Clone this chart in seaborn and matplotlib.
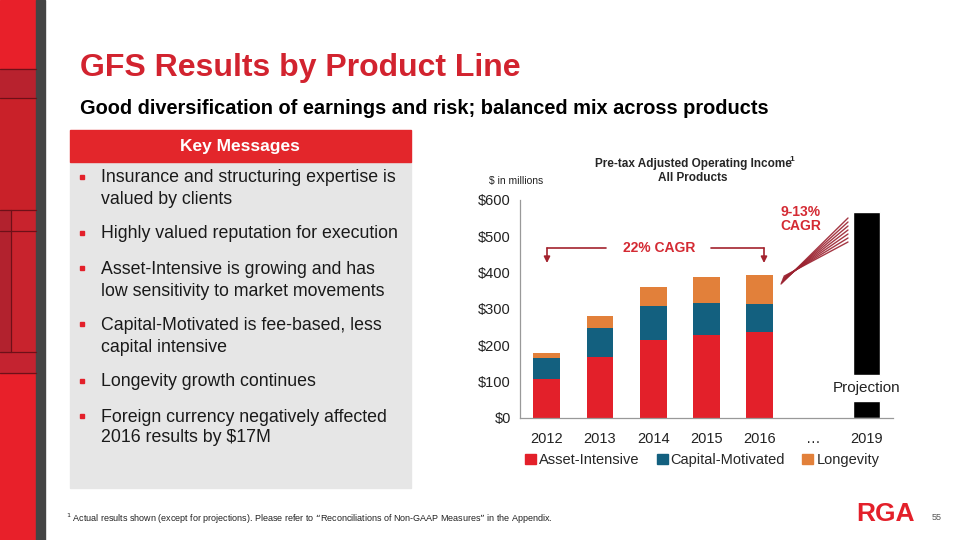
import pandas as pd
import matplotlib.pyplot as plt
import seaborn as sns
from matplotlib.lines import Line2D
from matplotlib.patches import Rectangle, Patch

# data ($ in millions)
years = ["2012", "2013", "2014", "2015", "2016", "…", "2019"]
actual_years = ["2012", "2013", "2014", "2015", "2016"]
asset_intensive = [107, 168, 214, 228, 237]
capital_motivated = [57, 79, 95, 88, 76]
longevity = [15, 34, 51, 71, 80]
proj_low = 46        # black part below the "Projection" label
proj_gap_top = 119   # black part resumes here
proj_top = 566

bullets = [
    ["Insurance and structuring expertise is", "valued by clients"],
    ["Highly valued reputation for execution"],
    ["Asset-Intensive is growing and has", "low sensitivity to market movements"],
    ["Capital-Motivated is fee-based, less", "capital intensive"],
    ["Longevity growth continues"],
    ["Foreign currency negatively affected", "2016 results by $17M"],
]

RED = "#E3202A"
BLUE = "#13607F"
ORANGE = "#E2803A"
TITLE_RED = "#D2232F"
ARROW_RED = "#A3232E"

sns.set_style("white")
plt.rcParams["font.family"] = ["Liberation Sans", "DejaVu Sans"]
NARROW = ["Liberation Sans Narrow", "Liberation Sans", "DejaVu Sans"]

W, H = 960, 540
fig = plt.figure(figsize=(9.6, 5.4), dpi=100)


def px(x, y):
    return x / W, 1 - y / H


# left decorative strip
fig.add_artist(Rectangle(px(0, 540), 36 / W, 1, color="#E8202A", zorder=0))
for y0, y1, c in [(69, 98, "#B8222E"), (98, 210, "#C92129"), (352, 373, "#C42330")]:
    fig.add_artist(Rectangle(px(0, y1), 36 / W, (y1 - y0) / H, color=c, zorder=0))
fig.add_artist(Rectangle(px(0, 352), 11 / W, 142 / H, color="#B2222E", zorder=0))
fig.add_artist(Rectangle(px(11, 352), 25 / W, 142 / H, color="#C8232D", zorder=0))
for y in [69, 98, 210, 231, 352, 373]:
    fig.add_artist(Line2D([0, 36 / W], [1 - y / H] * 2, color="#6E1018", lw=0.9))
fig.add_artist(Line2D([11 / W] * 2, [1 - 210 / H, 1 - 352 / H], color="#6E1018", lw=0.9))
fig.add_artist(Rectangle(px(36, 540), 9 / W, 1, color="#444444", zorder=0))

# headings
fig.text(*px(80, 68), "GFS Results by Product Line", color=TITLE_RED,
         fontsize=23, fontweight="bold", family=NARROW, va="center")
fig.text(*px(80, 108), "Good diversification of earnings and risk; balanced mix across products",
         color="black", fontsize=14.4, fontweight="bold", family=NARROW, va="center")

# key messages panel
fig.add_artist(Rectangle(px(70, 488), 341 / W, 326 / H, color="#E6E6E6", zorder=0))
fig.add_artist(Rectangle(px(70, 162), 341 / W, 32 / H, color="#E3262B", zorder=0))
fig.text(*px(240, 147), "Key Messages", color="white", fontsize=12.5,
         fontweight="bold", ha="center", va="center")
line_y = [[178, 199], [234], [269, 291], [325, 347], [382], [417, 438]]
for lines, ys in zip(bullets, line_y):
    fig.add_artist(Rectangle(px(80, ys[0] + 1), 4 / W, 4 / H, color=RED))
    for txt, y in zip(lines, ys):
        fig.text(*px(101, y), txt, fontsize=12.8, color="#1a1a1a", va="center")

# chart
ax = fig.add_axes([520 / W, 1 - 418 / H, 373 / W, 218 / H])
df = pd.DataFrame({"year": actual_years, "ai": asset_intensive,
                   "cm": capital_motivated, "lon": longevity})
df["ai_cm"] = df["ai"] + df["cm"]
df["total"] = df["ai_cm"] + df["lon"]

for col, c in [("total", ORANGE), ("ai_cm", BLUE), ("ai", RED)]:
    sns.barplot(data=df, x="year", y=col, order=years, color=c, saturation=1,
                width=0.5, linewidth=0, ax=ax)

ip = years.index("2019")
ax.bar([ip], [proj_low], width=0.5, color="black")
ax.bar([ip], [proj_top - proj_gap_top], bottom=proj_gap_top, width=0.5, color="black")

ax.set_xlim(-0.5, 6.5)
ax.set_ylim(0, 600)
ax.set_yticks(range(0, 601, 100))
ax.set_yticklabels([f"${v}" for v in range(0, 601, 100)])
ax.set_xlabel("")
ax.set_ylabel("")
ax.set_xticks(range(len(years)))
ax.set_xticklabels(years)
ax.set_xticks([i - 0.5 for i in range(len(years) + 1)], minor=True)
ax.tick_params(axis="x", which="major", length=0, pad=10, labelsize=10.5, colors="#222222")
ax.tick_params(axis="x", which="minor", length=4, direction="out", color="#999999")
ax.tick_params(axis="y", length=3, direction="out", color="#999999", labelsize=10.5,
               colors="#999999")
for lbl in ax.get_yticklabels():
    lbl.set_color("#222222")
sns.despine(ax=ax)
for s in ["left", "bottom"]:
    ax.spines[s].set_color("#999999")
    ax.spines[s].set_linewidth(0.9)

ax.text(ip, 82, "Projection", ha="center", va="center", fontsize=11, color="#222222",
        clip_on=False)

# chart titles
fig.text(*px(693, 164), "Pre-tax Adjusted Operating Income", fontsize=8.5,
         fontweight="bold", ha="center", va="center")
fig.text(*px(792, 159), "1", fontsize=6, fontweight="bold", ha="center", va="center")
fig.text(*px(693, 178), "All Products", fontsize=8.5, fontweight="bold",
         ha="center", va="center")
fig.text(*px(489, 181), "$ in millions", fontsize=7.5, va="center", color="#222222")

# 22% CAGR bracket
fig.text(*px(659, 248), "22% CAGR", color="#D42A33", fontsize=10, fontweight="bold",
         ha="center", va="center")
fig.add_artist(Line2D([547 / W, 606 / W], [1 - 248 / H] * 2, color=ARROW_RED, lw=1.2))
fig.add_artist(Line2D([711 / W, 764 / W], [1 - 248 / H] * 2, color=ARROW_RED, lw=1.2))
for x in [547, 764]:
    ax.annotate("", xy=px(x, 263), xytext=px(x, 248), xycoords="figure fraction",
                textcoords="figure fraction",
                arrowprops=dict(arrowstyle="-|>", color=ARROW_RED, lw=1.2,
                                mutation_scale=9, shrinkA=0, shrinkB=0))

# 9-13% CAGR hatch
fig.text(*px(801, 212), "9-13%", color="#D42A33", fontsize=10, fontweight="bold",
         ha="center", va="center")
fig.text(*px(801, 226), "CAGR", color="#D42A33", fontsize=10, fontweight="bold",
         ha="center", va="center")
for i in range(7):
    x0, y0 = 781 + i * 0.5, 284 - i * 1.3
    x1, y1 = 848, 218 + i * 4.0
    fig.add_artist(Line2D([x0 / W, x1 / W], [1 - y0 / H, 1 - y1 / H],
                          color="#9B2230", lw=1.0, alpha=0.9))

# legend
handles = [Patch(color=RED, label="Asset-Intensive"),
           Patch(color=BLUE, label="Capital-Motivated"),
           Patch(color=ORANGE, label="Longevity")]
fig.legend(handles=handles, loc="center", bbox_to_anchor=px(702, 460), ncol=3,
           frameon=False, fontsize=10.5, handlelength=0.75, handleheight=0.75,
           handletextpad=0.2, columnspacing=1.2)

# footer
fig.text(*px(66, 519), "$^1$ Actual results shown (except for projections). Please refer to "
         "\u201cReconciliations of Non-GAAP Measures\u201d in the Appendix.",
         fontsize=6.5, family=NARROW, va="center", color="#222222")
fig.text(*px(885, 514), "RGA", color="#E3202A", fontsize=19, fontweight="bold",
         family=NARROW, ha="center", va="center")
fig.text(*px(937, 518), "55", fontsize=6.5, color="#555555", ha="center", va="center")

fig.savefig("out.png", dpi=100)
